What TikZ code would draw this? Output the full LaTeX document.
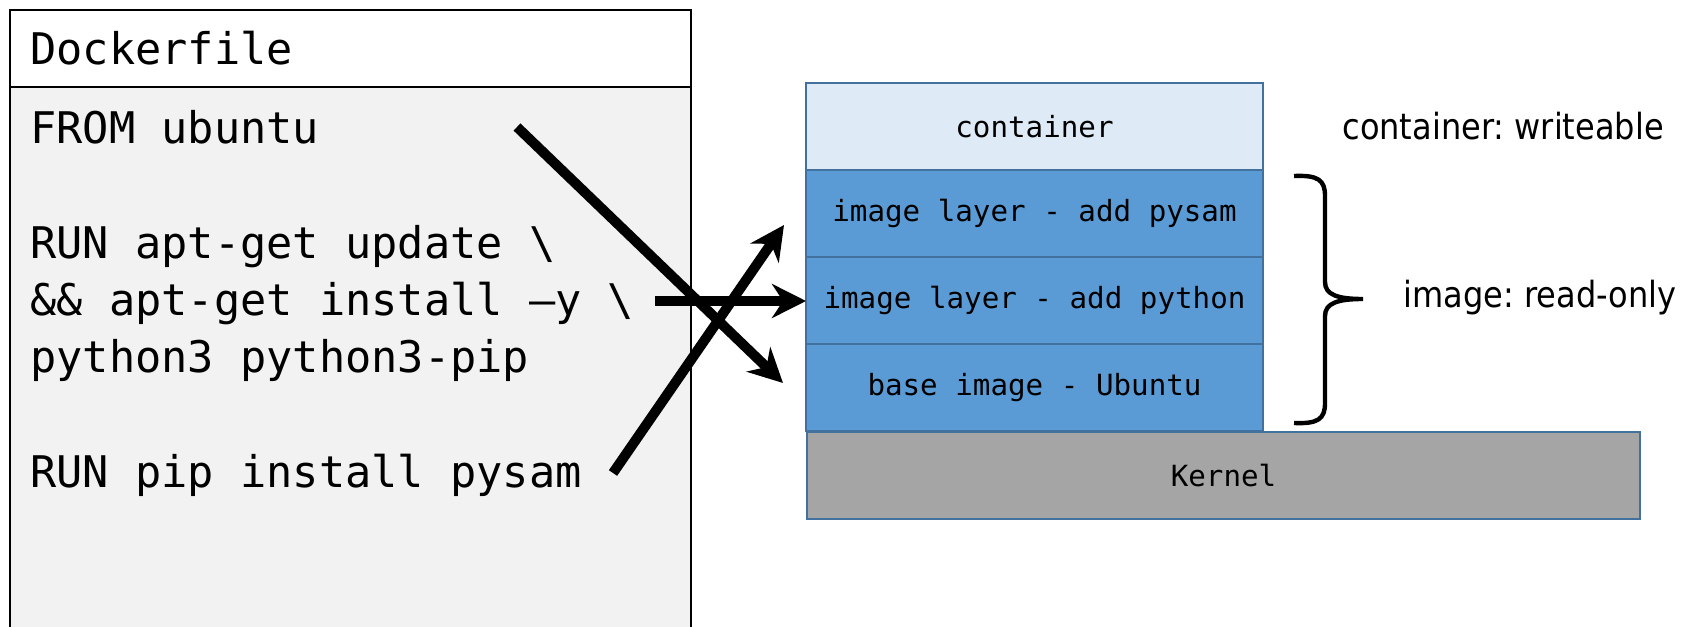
\documentclass[tikz,border=0pt]{standalone}
\usepackage{fontspec}
\setmonofont{DejaVu Sans Mono}
\newfontfamily\labelfont[FakeStretch=0.89]{DejaVu Sans}
\usetikzlibrary{positioning,arrows.meta}
\definecolor{filegray}{HTML}{F2F2F2}
\definecolor{contblue}{HTML}{DEEBF7}
\definecolor{layerblue}{HTML}{5B9BD5}
\definecolor{edgeblue}{HTML}{41719C}
\definecolor{kernelgray}{HTML}{A5A5A5}
\frenchspacing
\begin{document}
\begin{tikzpicture}[x=0.5pt,y=-0.5pt,
    code/.style={anchor=base west,inner sep=0pt,font=\ttfamily\fontsize{21.8}{26}\selectfont},
    layer/.style={draw=edgeblue,line width=1pt,fill=layerblue,outer sep=0pt,inner sep=0pt,
      minimum width=228.5pt,minimum height=43.5pt,font=\ttfamily\fontsize{14.6}{17}\selectfont},
    note/.style={anchor=base west,inner sep=0pt,font=\labelfont\fontsize{18}{22}\selectfont},
    cmdarrow/.style={line width=5pt,-{Stealth[length=17pt,width=17pt]}}]
  \useasboundingbox (0,0) rectangle (1684,626);
  \clip (0,0) rectangle (1684,626);
  % Dockerfile
  \draw[line width=1pt,fill=filegray] (10,87) rectangle (691,640);
  \draw[line width=1pt,fill=white] (10,10) rectangle (691,87);
  \node[code] (title) at (30,65) {Dockerfile};
  \node[code] (from) at (30,143) {FROM ubuntu};
  \node[code] (runapt) at (30,258) {RUN apt-get update \textbackslash};
  \node[code] (aptinstall) at (30,315) {\&\& apt-get install –y \textbackslash};
  \node[code] (pyline) at (30,372) {python3 python3-pip};
  \node[code] (runpip) at (30,487) {RUN pip install pysam};
  % layers
  \node[layer,fill=contblue,anchor=north west] (container) at (806,83) {container};
  \node[layer,below=0pt of container] (pysam) {image layer - add pysam};
  \node[layer,below=0pt of pysam] (python) {image layer - add python};
  \node[layer,below=0pt of python] (ubuntu) {base image - Ubuntu};
  \node[layer,fill=kernelgray,minimum width=416.5pt,anchor=north west] (kernel) at (807,432) {Kernel};
  \node[note] (writelbl) at (1342,139) {container: writeable};
  % brace
  \draw[line width=2.2pt] (1294,176) .. controls (1318,175) and (1325,180) .. (1325,196) -- (1325,282)
    .. controls (1325,295) and (1338,299) .. (1363,299)
    .. controls (1338,299) and (1325,303) .. (1325,316) -- (1325,403)
    .. controls (1325,419) and (1318,424) .. (1294,423);
  \node[note] (readlbl) at (1403,307) {image: read-only};
  % arrows
  \coordinate (fromtail) at (517,127);
  \coordinate (fromhead) at (783,383);
  \coordinate (apttail) at (655,301);
  \coordinate (piptail) at (613,473);
  \coordinate (piphead) at (784,225);
  \draw[cmdarrow] (fromtail) -- (fromhead);
  \draw[cmdarrow] (apttail) -- (apttail -| python.west);
  \draw[cmdarrow] (piptail) -- (piphead);
\end{tikzpicture}
\end{document}
